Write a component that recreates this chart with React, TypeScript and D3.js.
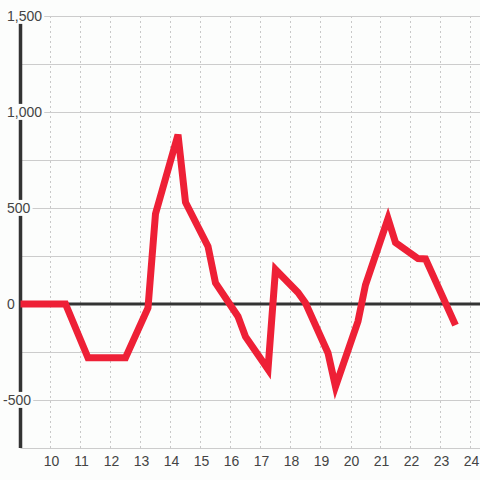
import React, { useEffect, useRef } from "react";
import * as d3 from "d3";

const xValues = [9, 10.5, 11.25, 12.5, 13.25, 13.5, 14.25, 14.5, 15.25, 15.5, 16.25, 16.5, 17.25, 17.5, 18.25, 18.5, 19.25, 19.5, 20.25, 20.5, 21.25, 21.5, 22.25, 22.5, 23.5];
const yValues = [0, 0, -280, -280, -20, 470, 882, 530, 300, 110, -65, -170, -340, 180, 60, 5, -255, -430, -90, 100, 445, 320, 237, 235, -110];
const xTicks = [10, 11, 12, 13, 14, 15, 16, 17, 18, 19, 20, 21, 22, 23, 24];
const yGrid = [-750, -500, -250, 0, 250, 500, 750, 1000, 1250, 1500];
const yLabels = [-500, 0, 500, 1000, 1500];

const W = 480;
const H = 480;
const BG = "#fcfdfc";

export default function App() {
  const ref = useRef<SVGSVGElement>(null);
  useEffect(() => {
    const svg = d3.select(ref.current);
    svg.selectAll("*").remove();
    const x = d3.scaleLinear().domain([9, 24.35]).range([20.5, 481]);
    const y = d3.scaleLinear().domain([-750, 1500]).range([448, 16]);

    svg.append("rect").attr("width", W).attr("height", H).attr("fill", BG);

    // vertical dotted grid
    svg.append("g").selectAll("line").data(xTicks).join("line")
      .attr("x1", (d) => Math.round(x(d)) + 0.5).attr("x2", (d) => Math.round(x(d)) + 0.5)
      .attr("y1", y(1500)).attr("y2", y(-750))
      .attr("stroke", "#c8c8c8").attr("stroke-width", 1).attr("stroke-dasharray", "2,3");

    // horizontal grid
    svg.append("g").selectAll("line").data(yGrid).join("line")
      .attr("x1", x(9)).attr("x2", W)
      .attr("y1", (d) => Math.round(y(d)) + 0.5).attr("y2", (d) => Math.round(y(d)) + 0.5)
      .attr("stroke", "#cccccc").attr("stroke-width", 1);

    // zero line
    svg.append("line").attr("x1", x(9)).attr("x2", W)
      .attr("y1", y(0)).attr("y2", y(0))
      .attr("stroke", "#333333").attr("stroke-width", 3);

    // y axis line
    svg.append("line").attr("x1", x(9)).attr("x2", x(9))
      .attr("y1", y(1500)).attr("y2", y(-750))
      .attr("stroke", "#333333").attr("stroke-width", 3.5);

    // y labels with background
    const fmt = d3.format(",");
    const lg = svg.append("g");
    yLabels.forEach((v) => {
      const g = lg.append("g");
      const t = g.append("text")
        .attr("x", v < 0 ? 3 : 7)
        .attr("y", y(v))
        .attr("dy", "0.35em")
        .attr("font-family", "'Liberation Sans', Arial, sans-serif")
        .attr("font-size", 14)
        .attr("fill", "#444444")
        .text(v < 0 ? "-" + fmt(-v) : fmt(v));
      const bb = (t.node() as SVGTextElement).getBBox();
      g.insert("rect", "text")
        .attr("x", bb.x - 1).attr("y", bb.y)
        .attr("width", bb.width + 3).attr("height", bb.height)
        .attr("fill", BG);
    });

    // x labels
    svg.append("g").selectAll("text").data(xTicks).join("text")
      .attr("x", (d) => x(d) + 1)
      .attr("y", 461)
      .attr("dy", "0.35em")
      .attr("text-anchor", "middle")
      .attr("font-family", "'Liberation Sans', Arial, sans-serif")
      .attr("font-size", 14)
      .attr("fill", "#444444")
      .text((d) => String(d));

    // data line
    const pts = xValues.map((xv, i) => [xv, yValues[i]] as [number, number]);
    const line = d3.line<[number, number]>().x((d) => x(d[0])).y((d) => y(d[1]));
    svg.append("path").datum(pts)
      .attr("d", line)
      .attr("fill", "none")
      .attr("stroke", "#ee2036")
      .attr("stroke-width", 7)
      .attr("stroke-linejoin", "miter");
  }, []);
  return (
    <svg ref={ref} width={W} height={H} style={{ position: "absolute", left: 0, top: 0 }} />
  );
}
